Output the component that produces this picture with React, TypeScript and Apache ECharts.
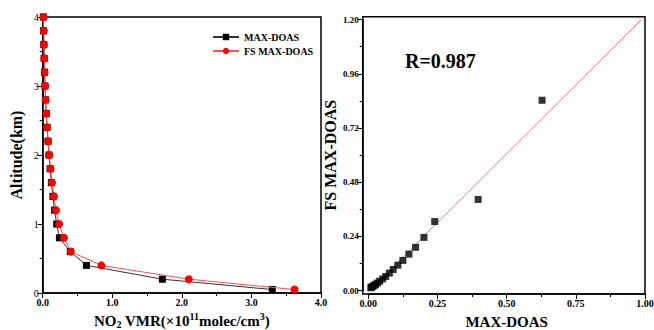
import React, { useEffect, useRef } from "react";
import * as echarts from "echarts";

// Altitude (km) of profile layers
const altitudes = [0.05, 0.2, 0.4, 0.6, 0.8, 1.0, 1.2, 1.4, 1.6, 1.8, 2.0, 2.2, 2.4, 2.6, 2.8, 3.0, 3.2, 3.4, 3.6, 3.8, 4.0];
// NO2 VMR (x1e11 molec/cm3)
const maxDoas = [3.3, 1.72, 0.628, 0.397, 0.24, 0.201, 0.171, 0.147, 0.125, 0.107, 0.09, 0.076, 0.063, 0.052, 0.041, 0.033, 0.026, 0.021, 0.016, 0.012, 0.009];
const fsMaxDoas = [3.62, 2.1, 0.843, 0.404, 0.306, 0.236, 0.192, 0.162, 0.134, 0.113, 0.094, 0.078, 0.063, 0.052, 0.042, 0.034, 0.028, 0.023, 0.019, 0.016, 0.013];
// Linear fit shown in scatter panel
const fitSlope = 1.22;
const fitIntercept = -0.004;
const rLabel = "R=0.987";

const leftXTicks = { min: 0, max: 4, interval: 1 };
const leftYTicks = { min: 0, max: 4, interval: 1 };
const rightXTicks = { min: 0, max: 1, interval: 0.25 };
const rightYTicks = { min: 0, max: 1.2, interval: 0.24 };

const FONT = "Liberation Serif";

export default function App() {
  const ref = useRef<HTMLDivElement>(null);
  useEffect(() => {
    document.body.style.margin = "0";
    const chart = echarts.init(ref.current!, null, { renderer: "svg" });
    const profileBlack = altitudes.map((a, i) => [maxDoas[i], a]);
    const profileRed = altitudes.map((a, i) => [fsMaxDoas[i], a]);
    const scatter = maxDoas.map((v, i) => [v, fsMaxDoas[i]]);
    const xs = maxDoas.filter((v) => v <= rightXTicks.max);
    const x0 = Math.min(...xs);
    const x1 = (rightYTicks.max - fitIntercept) / fitSlope;
    const fitLine = [
      [x0, fitSlope * x0 + fitIntercept],
      [x1, fitSlope * x1 + fitIntercept],
    ];

    const mkLine = () => ({ show: true, onZero: false, lineStyle: { color: "#000000", width: 1.5 } });
    const tick = () => ({ show: true, inside: false, length: 5, lineStyle: { color: "#000", width: 1 } });
    const minor = () => ({ show: true, splitNumber: 2, length: 3, lineStyle: { color: "#000", width: 1 } });
    const lbl = (dec: number, bold: boolean) => ({
      fontFamily: FONT,
      fontSize: 10,
      fontWeight: bold ? "bold" : "normal",
      color: "#000",
      margin: 4,
      formatter: (v: number) => v.toFixed(dec),
    });
    const hidden = (gridIndex: number) => ({ gridIndex, type: "value", show: false, min: 0, max: 1 });
    const border = { show: true, borderColor: "#000", borderWidth: 1.5, backgroundColor: "transparent" };
    const g = { outerBoundsMode: "none", containLabel: false };
    const nameBase = { fontFamily: FONT, fontWeight: "bold", color: "#000", lineHeight: 18 };

    chart.setOption({
      animation: false,
      backgroundColor: "#fff",
      grid: [
        { left: 42.7, top: 17, width: 278.3, height: 276, ...border, ...g },
        { left: 368.3, top: 19.6, width: 276.7, height: 271.1, ...g },
        { left: 362.7, top: 16.7, width: 282.3, height: 277.3, ...border, ...g },
      ],
      legend: {
        data: [
          { name: "MAX-DOAS" },
          { name: "FS MAX-DOAS" },
        ],
        orient: "vertical",
        left: 207,
        top: 27,
        itemGap: 4,
        itemWidth: 26,
        itemHeight: 8,
        textStyle: { fontFamily: FONT, fontSize: 10, fontWeight: "bold", color: "#000" },
      },
      graphic: [
        {
          type: "text",
          left: 405,
          top: 51,
          style: { text: rLabel, fontFamily: FONT, fontSize: 20, fontWeight: "bold", fill: "#000" },
        },
      ],
      xAxis: [
        {
          gridIndex: 0,
          type: "value",
          ...leftXTicks,
          axisLine: mkLine(),
          axisTick: tick(),
          minorTick: minor(),
          splitLine: { show: false },
          axisLabel: lbl(1, true),
          name: "{a|NO}{sub|2}{a| VMR(×10}{sup|11}{a|molec/cm}{sup|3}{a|)}",
          nameLocation: "middle",
          nameGap: 15,
          nameTextStyle: {
            rich: {
              a: { ...nameBase, fontSize: 15 },
              sub: { ...nameBase, fontSize: 10, verticalAlign: "bottom" },
              sup: { ...nameBase, fontSize: 10, verticalAlign: "top" },
            },
          },
        },
        {
          gridIndex: 1,
          type: "value",
          ...rightXTicks,
          offset: 3.3,
          axisLine: mkLine(),
          axisTick: tick(),
          minorTick: minor(),
          splitLine: { show: false },
          axisLabel: lbl(2, true),
          name: "MAX-DOAS",
          nameLocation: "middle",
          nameGap: 20,
          nameTextStyle: { fontFamily: FONT, fontSize: 15, fontWeight: "bold", color: "#000" },
        },
        hidden(2),
      ],
      yAxis: [
        {
          gridIndex: 0,
          type: "value",
          ...leftYTicks,
          axisLine: mkLine(),
          axisTick: tick(),
          minorTick: minor(),
          splitLine: { show: false },
          axisLabel: lbl(0, false),
          name: "Altitude(km)",
          nameLocation: "middle",
          nameGap: 18,
          nameTextStyle: { fontFamily: FONT, fontSize: 16, fontWeight: "bold", color: "#000" },
        },
        {
          gridIndex: 1,
          type: "value",
          ...rightYTicks,
          offset: 5.6,
          axisLine: mkLine(),
          axisTick: tick(),
          minorTick: minor(),
          splitLine: { show: false },
          axisLabel: { ...lbl(2, true), fontSize: 9 },
          name: "FS MAX-DOAS",
          nameLocation: "middle",
          nameGap: 24,
          nameTextStyle: { fontFamily: FONT, fontSize: 16, fontWeight: "bold", color: "#000" },
        },
        hidden(2),
      ],
      series: [
        {
          name: "MAX-DOAS",
          type: "line",
          xAxisIndex: 0,
          yAxisIndex: 0,
          data: profileBlack,
          symbol: "rect",
          symbolSize: 7,
          itemStyle: { color: "#000" },
          lineStyle: { color: "#333", width: 1 },
          z: 3,
        },
        {
          name: "FS MAX-DOAS",
          type: "line",
          xAxisIndex: 0,
          yAxisIndex: 0,
          data: profileRed,
          symbol: "circle",
          symbolSize: 8,
          itemStyle: { color: "#ff0000" },
          lineStyle: { color: "#ff4d4d", width: 1 },
          z: 4,
        },
        {
          type: "line",
          xAxisIndex: 1,
          yAxisIndex: 1,
          data: fitLine,
          symbol: "none",
          lineStyle: { color: "#ff6b6b", width: 1 },
          z: 2,
        },
        {
          type: "scatter",
          xAxisIndex: 1,
          yAxisIndex: 1,
          data: scatter,
          symbol: "rect",
          symbolSize: 7,
          itemStyle: { color: "#000" },
          clip: true,
          z: 3,
        },
      ],
    });
    return () => chart.dispose();
  }, []);
  return <div ref={ref} style={{ width: 654, height: 330 }} />;
}
